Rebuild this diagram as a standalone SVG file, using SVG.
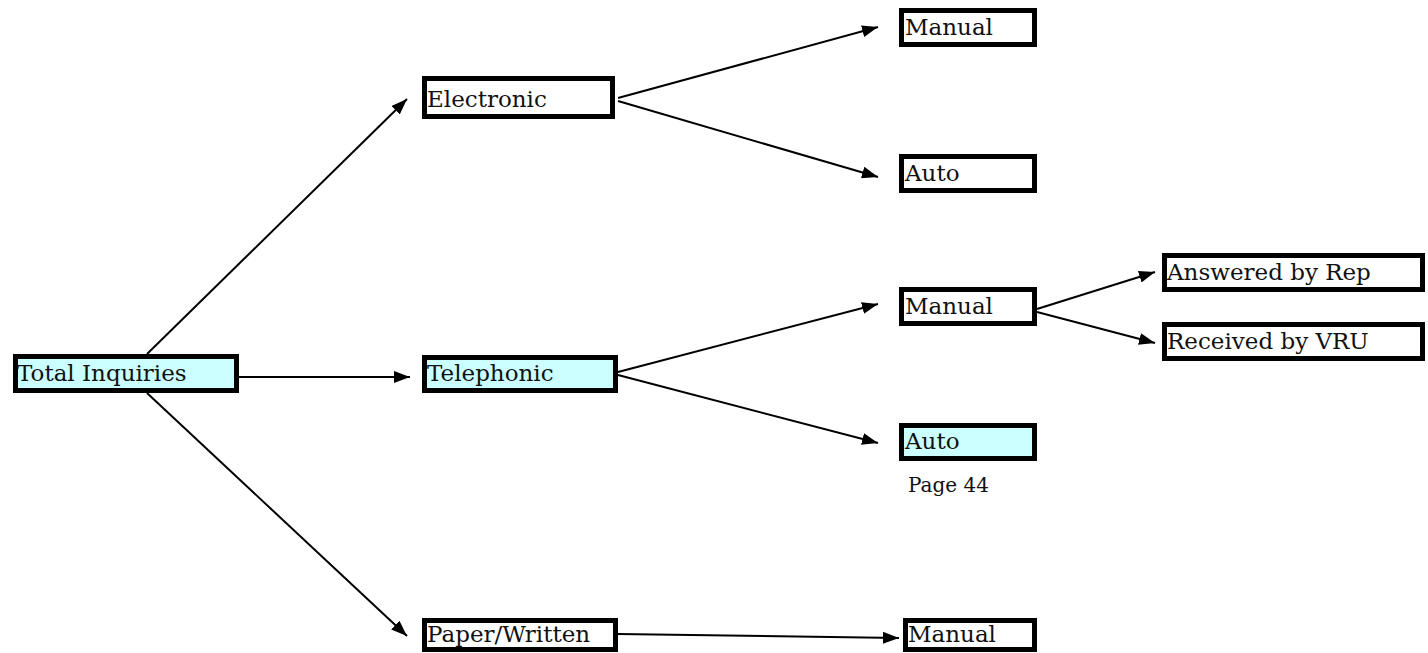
<svg xmlns="http://www.w3.org/2000/svg" width="1428" height="653" viewBox="0 0 1428 653">
<defs>
<marker id="arr" markerUnits="userSpaceOnUse" markerWidth="17" markerHeight="12" refX="16" refY="6" orient="auto" viewBox="0 0 17 12">
<path d="M0,0 L16,6 L0,12 z" fill="#000"/>
</marker>
<style>
.box{fill:#fff;stroke:#000;stroke-width:5}
.cy{fill:#ccffff}
.t{font-family:"DejaVu Serif","Liberation Serif",serif;font-size:23px;fill:#111}
.c{stroke:#000;stroke-width:2;fill:none;marker-end:url(#arr)}
</style>
</defs>
<rect width="1428" height="653" fill="#fff"/>
<g id="connectors">
<line class="c" x1="147" y1="354" x2="407" y2="99"/>
<line class="c" x1="236" y1="377" x2="410" y2="377"/>
<line class="c" x1="147" y1="393" x2="407" y2="636"/>
<line class="c" x1="618" y1="98" x2="878" y2="27"/>
<line class="c" x1="618" y1="101" x2="878" y2="177"/>
<line class="c" x1="618" y1="372" x2="878" y2="304"/>
<line class="c" x1="618" y1="375" x2="878" y2="443"/>
<line class="c" x1="618" y1="634" x2="899" y2="638"/>
<line class="c" x1="1037" y1="309" x2="1155" y2="272"/>
<line class="c" x1="1037" y1="312" x2="1155" y2="343"/>
</g>
<g id="total"><rect class="box cy" x="15.5" y="356.5" width="221" height="34"/><text class="t" x="17" y="381">Total Inquiries</text></g>
<g id="electronic"><rect class="box" x="424.5" y="78.5" width="188" height="38"/><text class="t" x="427" y="107">Electronic</text></g>
<g id="telephonic"><rect class="box cy" x="424.5" y="357.5" width="191" height="33"/><text class="t" x="427" y="381">Telephonic</text></g>
<g id="paper"><rect class="box" x="424.5" y="620.5" width="191" height="29"/><text class="t" x="427" y="642">Paper/Written</text></g>
<g id="manual1"><rect class="box" x="901.5" y="10.5" width="133" height="34"/><text class="t" x="905" y="35">Manual</text></g>
<g id="auto1"><rect class="box" x="901.5" y="156.5" width="133" height="34"/><text class="t" x="905" y="181">Auto</text></g>
<g id="manual2"><rect class="box" x="901.5" y="289.5" width="133" height="34"/><text class="t" x="905" y="314">Manual</text></g>
<g id="auto2"><rect class="box cy" x="901.5" y="425.5" width="133" height="33"/><text class="t" x="905" y="449">Auto</text></g>
<g id="answered"><rect class="box" x="1164.5" y="255.5" width="258" height="34"/><text class="t" x="1167" y="280">Answered by Rep</text></g>
<g id="received"><rect class="box" x="1164.5" y="324.5" width="258" height="34"/><text class="t" x="1167" y="349">Received by VRU</text></g>
<g id="manual3"><rect class="box" x="905.5" y="620.5" width="129" height="29"/><text class="t" x="908" y="642">Manual</text></g>
<g id="page"><text class="t" x="908" y="492" style="font-size:20px">Page 44</text></g>
</svg>
